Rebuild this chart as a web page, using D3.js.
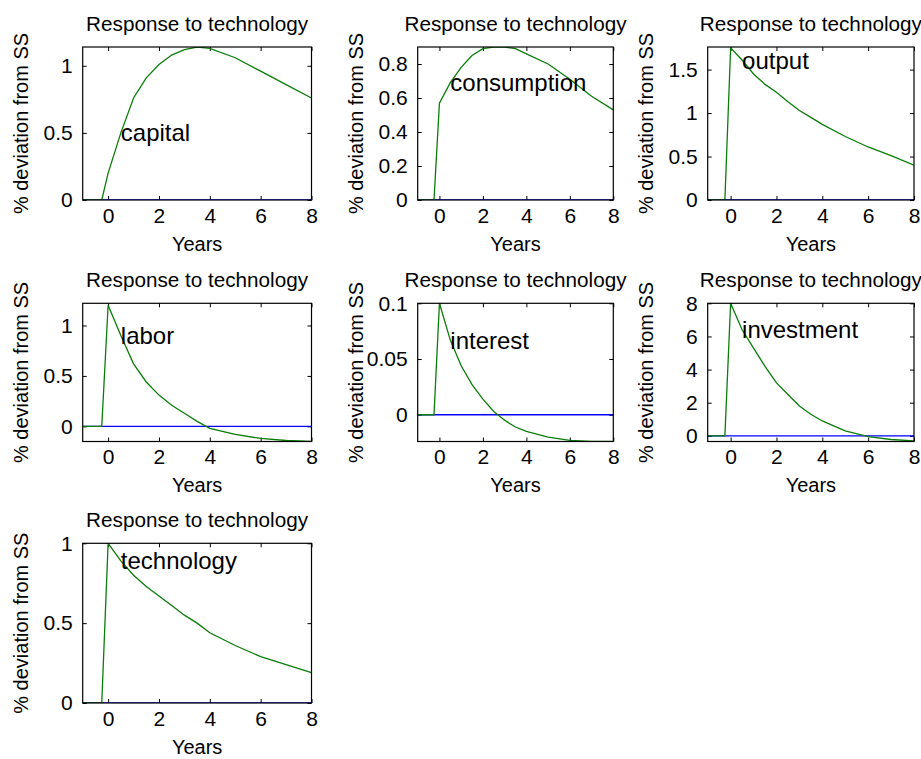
<!DOCTYPE html>
<html>
<head>
<meta charset="utf-8">
<script src="https://cdn.jsdelivr.net/npm/d3@7"></script>
<style>
  body { margin: 0; background: #fff; }
  svg text { font-family: "Liberation Sans", Arial, sans-serif; fill: #000; }
</style>
</head>
<body>
<svg id="fig" width="921" height="759"></svg>
<script>
// sample times (years) of the impulse responses
var years = [-1, -0.25, 0, 0.5, 1, 1.5, 2, 2.5, 3, 3.5, 4, 5, 6, 7, 8];

// responses to the technology shock, % deviation from steady state
var capital     = [0, 0, 0.2, 0.5, 0.76, 0.91, 1.01, 1.08, 1.12, 1.14, 1.13, 1.06, 0.96, 0.86, 0.76];
var consumption = [0, 0, 0.57, 0.69, 0.78, 0.85, 0.89, 0.9, 0.9, 0.89, 0.86, 0.8, 0.71, 0.61, 0.53];
var output      = [0, 0, 1.75, 1.61, 1.45, 1.33, 1.24, 1.13, 1.03, 0.95, 0.87, 0.73, 0.61, 0.51, 0.4];
var labor       = [0, 0, 1.2, 0.9, 0.62, 0.44, 0.31, 0.21, 0.13, 0.05, -0.02, -0.08, -0.12, -0.14, -0.15];
var interest    = [0, 0, 0.1, 0.067, 0.044, 0.027, 0.014, 0.003, -0.005, -0.011, -0.015, -0.02, -0.023, -0.024, -0.024];
var investment  = [0, 0, 8.0, 6.4, 5.3, 4.2, 3.2, 2.5, 1.8, 1.3, 0.9, 0.3, -0.05, -0.22, -0.3];
var technology  = [0, 0, 1.0, 0.89, 0.8, 0.73, 0.67, 0.61, 0.55, 0.5, 0.44, 0.36, 0.29, 0.24, 0.19];

var names  = ["capital", "consumption", "output", "labor", "interest", "investment", "technology"];
var series = [capital, consumption, output, labor, interest, investment, technology];

// axis limits and tick values
var xLimits = [-1, 8];
var xTicks = [0, 2, 4, 6, 8];
var yLimits = [[0, 1.14], [0, 0.9], [0, 1.76], [-0.15, 1.22], [-0.024, 0.1], [-0.34, 8.0], [0, 1]];
var yTicks = [
    [0, 0.5, 1],
    [0, 0.2, 0.4, 0.6, 0.8],
    [0, 0.5, 1, 1.5],
    [0, 0.5, 1],
    [0, 0.05, 0.1],
    [0, 2, 4, 6, 8],
    [0, 0.5, 1]
];

var titleText = "Response to technology";
var yLabel = "% deviation from SS";
var xLabel = "Years";
var labelAt = 0.5; // names are written at this point of each curve

// subplot boxes (3 x 3 grid, 7 used)
var cols = [{ l: 82.7, r: 311.5 }, { l: 417.7, r: 613.3 }, { l: 707.7, r: 914 }];
var rows = [{ t: 47, b: 200 }, { t: 303.3, b: 441.5 }, { t: 543.3, b: 703 }];

var svg = d3.select("#fig");
var green = "#0a7d0a";
var tickLen = 4;

series.forEach(function (vals, i) {
    var c = cols[i % 3], r = rows[Math.floor(i / 3)];
    var w = c.r - c.l, h = r.b - r.t;

    var x = d3.scaleLinear().domain(xLimits).range([0, w]);
    var y = d3.scaleLinear().domain(yLimits[i]).range([h, 0]);

    var g = svg.append("g").attr("transform", "translate(" + c.l + "," + r.t + ")");

    g.append("clipPath").attr("id", "clip" + i)
        .append("rect").attr("width", w).attr("height", h);

    // bottom / top / left / right axes, ticks inside, MATLAB style
    var fmt = function (d) { return String(+d.toFixed(3)); };
    g.append("g").attr("transform", "translate(0," + h + ")")
        .call(d3.axisBottom(x).tickValues(xTicks).tickSizeInner(-tickLen).tickSizeOuter(0).tickPadding(8).tickFormat(fmt));
    g.append("g")
        .call(d3.axisTop(x).tickValues(xTicks).tickSizeInner(-tickLen).tickSizeOuter(0).tickFormat(""));
    g.append("g")
        .call(d3.axisLeft(y).tickValues(yTicks[i]).tickSizeInner(-tickLen).tickSizeOuter(0).tickPadding(10).tickFormat(fmt));
    g.append("g").attr("transform", "translate(" + w + ",0)")
        .call(d3.axisRight(y).tickValues(yTicks[i]).tickSizeInner(-tickLen).tickSizeOuter(0).tickFormat(""));

    g.selectAll(".domain").remove();
    g.selectAll(".tick line").attr("stroke", "#000");
    g.selectAll(".tick text").attr("font-size", 21).attr("fill", "#000")
        .style("font-family", '"Liberation Sans", Arial, sans-serif');

    var plot = g.append("g").attr("clip-path", "url(#clip" + i + ")");

    // zero line
    plot.append("line")
        .attr("x1", x(xLimits[0])).attr("x2", x(xLimits[1]))
        .attr("y1", y(0)).attr("y2", y(0))
        .attr("stroke", "#0000ff").attr("stroke-width", 1.3);

    // response
    var line = d3.line().x(function (d, k) { return x(years[k]); }).y(function (d) { return y(d); });
    plot.append("path").datum(vals)
        .attr("d", line)
        .attr("fill", "none")
        .attr("stroke", green)
        .attr("stroke-width", 1.3);

    // box
    g.append("rect").attr("width", w).attr("height", h)
        .attr("fill", "none").attr("stroke", "#000").attr("stroke-width", 1.2);

    // series name written on the curve
    var k = years.indexOf(labelAt);
    g.append("text")
        .attr("x", x(years[k])).attr("y", y(vals[k]))
        .attr("dominant-baseline", "central")
        .attr("font-size", 24)
        .text(names[i]);

    // title and axis labels
    g.append("text")
        .attr("x", w / 2).attr("y", -16)
        .attr("text-anchor", "middle").attr("font-size", 20.7)
        .text(titleText);
    g.append("text")
        .attr("x", w / 2).attr("y", h + 51)
        .attr("text-anchor", "middle").attr("font-size", 20)
        .text(xLabel);
    g.append("text")
        .attr("transform", "translate(-55," + (h / 2) + ") rotate(-90)")
        .attr("text-anchor", "middle").attr("font-size", 20)
        .text(yLabel);
});
</script>
</body>
</html>
